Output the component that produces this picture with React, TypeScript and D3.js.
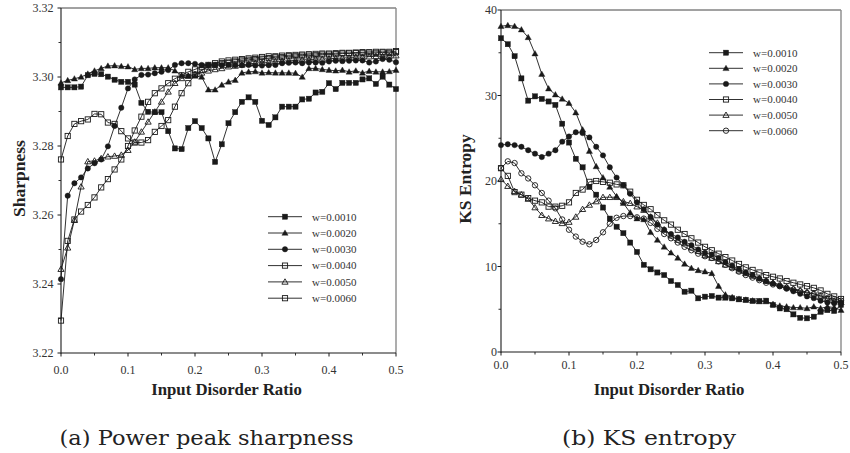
import React from "react";
import * as d3 from "d3";

// ---------- data ----------
const disorderRatios = [
  0.0, 0.01, 0.02, 0.03, 0.04, 0.05, 0.06, 0.07, 0.08, 0.09,
  0.1, 0.11, 0.12, 0.13, 0.14, 0.15, 0.16, 0.17, 0.18, 0.19,
  0.2, 0.21, 0.22, 0.23, 0.24, 0.25, 0.26, 0.27, 0.28, 0.29,
  0.3, 0.31, 0.32, 0.33, 0.34, 0.35, 0.36, 0.37, 0.38, 0.39,
  0.4, 0.41, 0.42, 0.43, 0.44, 0.45, 0.46, 0.47, 0.48, 0.49, 0.5,
];

const seriesLabels = ["w=0.0010", "w=0.0020", "w=0.0030", "w=0.0040", "w=0.0050", "w=0.0060"];

// (a) Power peak sharpness
const sharpW0010 = [
  3.297, 3.297, 3.297, 3.2972, 3.3005, 3.3009, 3.3008, 3.3001, 3.2992, 3.2986,
  3.2986, 3.2978, 3.2925, 3.2899, 3.2898, 3.2898, 3.2843, 3.2793, 3.2791, 3.2852,
  3.2872, 3.2852, 3.2822, 3.2754, 3.2805, 3.2866, 3.2898, 3.2928, 3.2941, 3.2928,
  3.2873, 3.2861, 3.2883, 3.2914, 3.2914, 3.2914, 3.2935, 3.2937, 3.2955, 3.2957,
  3.2982, 3.2965, 3.2983, 3.2983, 3.2983, 3.2993, 3.2996, 3.298, 3.3001, 3.2978, 3.2965,
];
const sharpW0020 = [
  3.2983, 3.299, 3.2995, 3.3, 3.3009, 3.3018, 3.3025, 3.3032, 3.3033, 3.3031,
  3.303, 3.3022, 3.3025, 3.3025, 3.3027, 3.3027, 3.3027, 3.3018, 3.3005, 3.3003,
  3.3003, 3.3, 3.2963, 3.2963, 3.2977, 3.2986, 3.2991, 3.3012, 3.3015, 3.3016,
  3.3012, 3.3013, 3.3012, 3.3012, 3.3012, 3.3011, 3.3, 3.3025, 3.3025, 3.3022,
  3.302, 3.3018, 3.302, 3.3015, 3.3018, 3.3012, 3.3017, 3.3015, 3.3015, 3.3016, 3.302,
];
const sharpW0030 = [
  3.2414, 3.2656, 3.2692, 3.2709, 3.2735, 3.275, 3.2761, 3.2799, 3.2858, 3.2911,
  3.2967, 3.2993, 3.3006, 3.3007, 3.3011, 3.3015, 3.302, 3.3035, 3.304, 3.304,
  3.3038, 3.3035, 3.3035, 3.3035, 3.3034, 3.3035, 3.3034, 3.3034, 3.3035, 3.3033,
  3.3033, 3.3034, 3.3035, 3.304, 3.3041, 3.3042, 3.304, 3.3042, 3.3042, 3.3041,
  3.3045, 3.3047, 3.3046, 3.3047, 3.3048, 3.3048, 3.3042, 3.3045, 3.3052, 3.305, 3.3043,
];
const sharpW0040 = [
  3.2761, 3.2829, 3.2864, 3.2872, 3.2877, 3.2893, 3.2892, 3.2868, 3.2864, 3.2843,
  3.2822, 3.281, 3.281, 3.2817, 3.2841, 3.2858, 3.2875, 3.2914, 3.2953, 3.2982,
  3.3006, 3.302, 3.303, 3.3035, 3.304, 3.3042, 3.3045, 3.3048, 3.305, 3.3052,
  3.3053, 3.3055, 3.3057, 3.3058, 3.306, 3.306, 3.3062, 3.3062, 3.3063, 3.3065,
  3.3065, 3.3066, 3.3068, 3.3068, 3.3069, 3.307, 3.3068, 3.307, 3.3071, 3.307, 3.3072,
];
const sharpW0050 = [
  3.2443, 3.2505, 3.2585, 3.2682, 3.2755, 3.2757, 3.2764, 3.2769, 3.2771, 3.2774,
  3.2788, 3.2812, 3.2841, 3.287, 3.2899, 3.2928, 3.2957, 3.2982, 3.2996, 3.3003,
  3.3008, 3.3012, 3.3018, 3.3022, 3.3025, 3.303, 3.3032, 3.3035, 3.3038, 3.304,
  3.3042, 3.3043, 3.3045, 3.3046, 3.3047, 3.3048, 3.305, 3.305, 3.3052, 3.3052,
  3.3053, 3.3054, 3.3055, 3.3056, 3.3058, 3.3058, 3.3059, 3.306, 3.306, 3.3061, 3.3062,
];
const sharpW0060 = [
  3.2294, 3.2525, 3.2587, 3.261, 3.2629, 3.2651, 3.268, 3.2704, 3.2732, 3.2761,
  3.28, 3.2845, 3.2885, 3.2928, 3.2953, 3.2967, 3.2982, 3.2995, 3.3005, 3.3015,
  3.3022, 3.303, 3.3035, 3.304, 3.3045, 3.3048, 3.305, 3.3052, 3.3054, 3.3056,
  3.3058, 3.306, 3.306, 3.3062, 3.3063, 3.3064, 3.3065, 3.3066, 3.3067, 3.3068,
  3.3068, 3.3069, 3.307, 3.307, 3.3071, 3.3072, 3.3072, 3.3073, 3.3073, 3.3073, 3.3075,
];

// (b) KS entropy
const entropyW0010 = [
  36.7, 36.0, 34.6, 32.0, 29.4, 29.9, 29.6, 29.3, 28.9, 26.7,
  24.5, 22.6, 21.6, 19.3, 18.4, 16.9, 15.6, 14.65, 13.9, 12.8,
  11.7, 10.2, 9.67, 9.3, 9.0, 8.3, 7.84, 7.05, 7.17, 6.28,
  6.47, 6.55, 6.36, 6.36, 6.28, 6.16, 6.1, 5.97, 5.97, 6.0,
  5.5, 5.1, 5.0, 4.4, 4.0, 3.94, 4.13, 4.7, 4.9, 4.8, 5.5,
];
const entropyW0020 = [
  38.1, 38.2, 38.1, 37.7, 36.8, 34.9, 32.5, 30.8, 30.1, 29.6,
  29.1, 28.0, 26.0, 23.5, 21.7, 20.4, 19.3, 18.2, 17.4, 16.3,
  15.6, 15.5, 14.0, 13.1, 12.3, 11.6, 11.0, 10.3, 9.8, 9.55,
  9.4, 9.2, 7.7, 6.7, 6.4, 6.2, 6.1, 6.0, 5.9, 5.9,
  5.6, 5.4, 5.3, 5.2, 5.2, 5.1, 5.3, 5.1, 5.3, 5.2, 4.9,
];
const entropyW0030 = [
  24.2, 24.3, 24.2, 24.0, 23.6, 23.2, 22.8, 23.2, 23.6, 24.6,
  25.2, 25.7, 25.6, 25.1, 24.0, 23.0, 21.6, 20.4, 19.5, 18.5,
  17.5, 16.7, 15.8, 14.9, 14.3, 13.8, 13.4, 12.9, 12.5, 12.0,
  11.6, 11.4, 11.0, 10.5, 10.1, 9.7, 9.3, 9.0, 8.6, 8.3,
  8.0, 7.7, 7.4, 7.1, 6.8, 6.5, 6.3, 6.0, 5.8, 5.7, 5.8,
];
const entropyW0040 = [
  21.5, 20.6, 18.7, 18.4, 18.0, 17.7, 17.5, 17.0, 17.0, 17.1,
  17.5, 18.6, 19.0, 19.9, 20.0, 19.9, 19.8, 19.6, 19.5, 18.75,
  17.8, 17.2, 16.7, 16.0, 15.4, 14.9, 14.3, 13.8, 13.3, 12.8,
  12.3, 11.9, 11.5, 11.1, 10.7, 10.3, 9.9, 9.6, 9.3, 9.0,
  8.8, 8.6, 8.3, 8.1, 7.9, 7.7, 7.5, 7.2, 6.8, 6.5, 6.2,
];
const entropyW0050 = [
  20.2, 19.4, 18.8, 18.4, 17.9, 16.9, 16.0, 15.6, 15.3, 15.05,
  15.2, 15.8, 16.7, 17.2, 17.6, 18.1, 18.1, 18.1, 17.6, 17.4,
  17.0, 16.6, 15.8, 15.1, 14.3, 13.6, 13.1, 12.7, 12.2, 11.8,
  11.3, 11.0, 10.6, 10.2, 9.9, 9.5, 9.2, 8.9, 8.6, 8.3,
  8.1, 7.9, 7.6, 7.4, 7.2, 7.0, 6.8, 6.5, 6.2, 6.0, 5.8,
];
const entropyW0060 = [
  21.5, 22.3, 22.1, 20.9, 20.3, 19.5, 18.6, 17.7, 16.8, 15.5,
  14.3, 13.5, 12.9, 12.6, 13.1, 14.0, 15.0, 15.7, 15.9, 15.9,
  15.75, 15.6, 15.1, 14.4, 13.8, 13.3, 12.8, 12.3, 11.9, 11.5,
  11.2, 11.0, 10.6, 10.2, 9.8, 9.4, 9.0, 8.7, 8.4, 8.1,
  7.9, 7.7, 7.5, 7.3, 7.1, 6.9, 6.8, 6.6, 6.3, 6.2, 6.0,
];

const xTicks = [0, 0.1, 0.2, 0.3, 0.4, 0.5];
const xMinorTicks = [0.05, 0.15, 0.25, 0.35, 0.45];
const sharpTicks = [3.22, 3.24, 3.26, 3.28, 3.3, 3.32];
const sharpMinorTicks = [3.23, 3.25, 3.27, 3.29, 3.31];
const entropyTicks = [0, 10, 20, 30, 40];
const entropyMinorTicks = [5, 15, 25, 35];

type Marker = "fsquare" | "ftri" | "fcircle" | "osquare" | "otri" | "ocircle";

const INK = "#1a1a1a";
const SERIF = "'Liberation Serif', 'Times New Roman', serif";

function MarkerShape({ kind, x, y }: { kind: Marker; x: number; y: number }) {
  const s = 2.6;
  const filled = kind.startsWith("f");
  const fill = filled ? INK : "none";
  const stroke = INK;
  const sw = filled ? 0.4 : 0.9;
  if (kind.endsWith("square")) {
    return <rect x={x - s} y={y - s} width={2 * s} height={2 * s} fill={fill} stroke={stroke} strokeWidth={sw} />;
  }
  if (kind.endsWith("tri")) {
    const p = `M${x},${y - 3.1}L${x + 3.1},${y + 2.3}L${x - 3.1},${y + 2.3}Z`;
    return <path d={p} fill={fill} stroke={stroke} strokeWidth={sw} />;
  }
  return <circle cx={x} cy={y} r={2.7} fill={fill} stroke={stroke} strokeWidth={sw} />;
}

interface PanelProps {
  left: number;
  right: number;
  top: number;
  bottom: number;
  yDomain: [number, number];
  yTicks: number[];
  yMinor: number[];
  yFormat: (v: number) => string;
  yLabelGap: number;
  series: number[][];
  markers: Marker[];
  yTitle: string;
  yTitleX: number;
  xLabelY: number;
  legendX: number;
  legendY: number;
  legendStep: number;
  caption: string;
  captionWidth: number;
}

function Panel(p: PanelProps) {
  const x = d3.scaleLinear().domain([0, 0.5]).range([p.left, p.right]);
  const y = d3.scaleLinear().domain(p.yDomain).range([p.bottom, p.top]);
  const line = d3
    .line<number>()
    .x((_, i) => x(disorderRatios[i]))
    .y((v) => y(v));
  const cx = (p.left + p.right) / 2;
  const cy = (p.top + p.bottom) / 2;
  return (
    <g>
      {/* frame */}
      <line x1={p.left} x2={p.right} y1={p.top} y2={p.top} stroke="#444" strokeWidth={1} />
      <line x1={p.right} x2={p.right} y1={p.top} y2={p.bottom} stroke="#8a8a8a" strokeWidth={1.4} />
      <line x1={p.left} x2={p.left} y1={p.top} y2={p.bottom + 0.5} stroke={INK} strokeWidth={1.1} />
      <line x1={p.left} x2={p.right} y1={p.bottom} y2={p.bottom} stroke={INK} strokeWidth={1.1} />
      {/* y ticks */}
      {p.yTicks.map((t) => (
        <g key={"yt" + t}>
          <line x1={p.left - 3.5} x2={p.left} y1={y(t)} y2={y(t)} stroke={INK} strokeWidth={1} />
          <text
            x={p.left - p.yLabelGap}
            y={y(t)}
            dy="0.35em"
            textAnchor="end"
            fontFamily={SERIF}
            fontSize={12}
            fill="#333"
          >
            {p.yFormat(t)}
          </text>
        </g>
      ))}
      {p.yMinor.map((t) => (
        <line key={"ym" + t} x1={p.left - 2.5} x2={p.left} y1={y(t)} y2={y(t)} stroke={INK} strokeWidth={0.9} />
      ))}
      {/* x ticks */}
      {xTicks.map((t) => (
        <g key={"xt" + t}>
          <line x1={x(t)} x2={x(t)} y1={p.bottom} y2={p.bottom + 3.5} stroke={INK} strokeWidth={1} />
          <text x={x(t)} y={p.xLabelY} textAnchor="middle" fontFamily={SERIF} fontSize={12} fill="#333">
            {d3.format(".1f")(t)}
          </text>
        </g>
      ))}
      {xMinorTicks.map((t) => (
        <line key={"xm" + t} x1={x(t)} x2={x(t)} y1={p.bottom} y2={p.bottom + 2.5} stroke={INK} strokeWidth={0.9} />
      ))}
      {/* titles */}
      <text
        x={cx - 2}
        y={395}
        textAnchor="middle"
        fontFamily={SERIF}
        fontWeight="bold"
        fontSize={16.8}
        fill="#222"
      >
        Input Disorder Ratio
      </text>
      <text
        transform={`translate(${p.yTitleX},${cy - 2}) rotate(-90)`}
        textAnchor="middle"
        fontFamily={SERIF}
        fontWeight="bold"
        fontSize={17.5}
        fill="#222"
      >
        {p.yTitle}
      </text>
      {/* series */}
      {p.series.map((vals, si) => (
        <g key={"s" + si}>
          <path d={line(vals) || ""} fill="none" stroke={INK} strokeWidth={0.9} />
          {vals.map((v, i) => (
            <MarkerShape key={i} kind={p.markers[si]} x={x(disorderRatios[i])} y={y(v)} />
          ))}
        </g>
      ))}
      {/* legend */}
      {seriesLabels.map((lab, i) => {
        const ly = p.legendY + i * p.legendStep;
        return (
          <g key={"lg" + i}>
            <line x1={p.legendX} x2={p.legendX + 34} y1={ly} y2={ly} stroke={INK} strokeWidth={0.9} />
            <MarkerShape kind={p.markers[i]} x={p.legendX + 17} y={ly} />
            <text x={p.legendX + 44} y={ly} dy="0.35em" fontFamily={SERIF} fontSize={11} fill="#333">
              {lab}
            </text>
          </g>
        );
      })}
      {/* caption */}
      <text
        x={cx - 22}
        y={445}
        textAnchor="middle"
        fontFamily="'DejaVu Serif', serif"
        fontSize={20}
        fill="#222"
        textLength={p.captionWidth}
        lengthAdjust="spacingAndGlyphs"
      >
        {p.caption}
      </text>
    </g>
  );
}

export default function App() {
  return (
    <svg
      width={850}
      height={453}
      viewBox="0 0 850 453"
      style={{ position: "absolute", left: 0, top: 0, background: "#fff" }}
    >
      <rect width={850} height={453} fill="#fff" />
      <Panel
        left={61}
        right={396}
        top={8}
        bottom={353}
        yDomain={[3.22, 3.32]}
        yTicks={sharpTicks}
        yMinor={sharpMinorTicks}
        yFormat={d3.format(".2f")}
        yLabelGap={7.5}
        series={[sharpW0010, sharpW0020, sharpW0030, sharpW0040, sharpW0050, sharpW0060]}
        markers={["fsquare", "ftri", "fcircle", "osquare", "otri", "osquare"]}
        yTitle="Sharpness"
        yTitleX={25}
        xLabelY={374}
        legendX={268}
        legendY={216.7}
        legendStep={16.3}
        caption="(a) Power peak sharpness"
        captionWidth={294}
      />
      <Panel
        left={501}
        right={841}
        top={10}
        bottom={352}
        yDomain={[0, 40]}
        yTicks={entropyTicks}
        yMinor={entropyMinorTicks}
        yFormat={d3.format("d")}
        yLabelGap={4}
        series={[entropyW0010, entropyW0020, entropyW0030, entropyW0040, entropyW0050, entropyW0060]}
        markers={["fsquare", "ftri", "fcircle", "osquare", "otri", "ocircle"]}
        yTitle="KS Entropy"
        yTitleX={471}
        xLabelY={369}
        legendX={709}
        legendY={52.7}
        legendStep={15.6}
        caption="(b) KS entropy"
        captionWidth={174}
      />
    </svg>
  );
}
